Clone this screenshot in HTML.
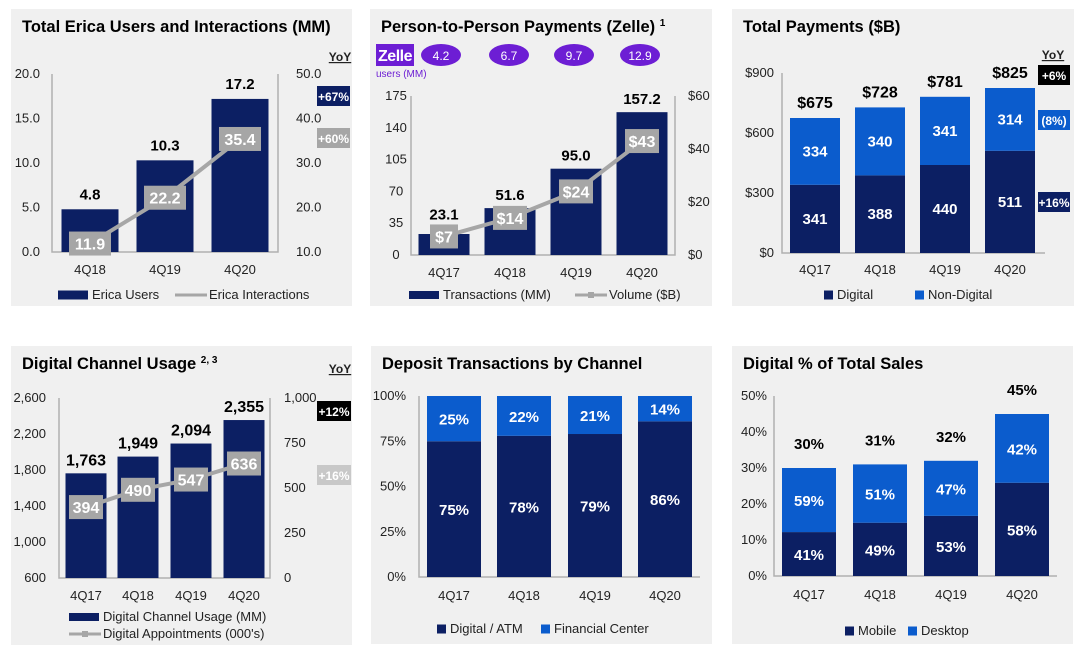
<!DOCTYPE html>
<html><head><meta charset="utf-8"><style>
body{margin:0;background:#fff;}
svg{display:block;font-family:"Liberation Sans",sans-serif;}
</style></head><body>
<svg id="s" width="1085" height="654" viewBox="0 0 1085 654"></svg>
<script>
const NAVY="#0c1f63", BLUE="#0b5ccd", GRAY="#a6a6a6", BG="#f0f0f0", PURPLE="#6d1ed4";
// Chart 1 data
const c1Cats=["4Q18","4Q19","4Q20"];
const c1Users=[4.8,10.3,17.2];
const c1Inter=[11.9,22.2,35.4];
const c1LeftTicks=[0,5,10,15,20];
const c1RightTicks=[10,20,30,40,50];
// Chart 2 data
const c2Cats=["4Q17","4Q18","4Q19","4Q20"];
const c2Trans=[23.1,51.6,95.0,157.2];
const c2Vol=[7,14,24,43];
const c2Users=["4.2","6.7","9.7","12.9"];
const c2LeftTicks=[0,35,70,105,140,175];
const c2RightTicks=[0,20,40,60];
// Chart 3 data
const c3Cats=["4Q17","4Q18","4Q19","4Q20"];
const c3Digital=[341,388,440,511];
const c3NonDigital=[334,340,341,314];
const c3Totals=["$675","$728","$781","$825"];
const c3Ticks=[0,300,600,900];
// Chart 4 data
const c4Cats=["4Q17","4Q18","4Q19","4Q20"];
const c4Usage=[1763,1949,2094,2355];
const c4Appts=[394,490,547,636];
const c4LeftTicks=[600,1000,1400,1800,2200,2600];
const c4RightTicks=[0,250,500,750,1000];
// Chart 5 data
const c5Cats=["4Q17","4Q18","4Q19","4Q20"];
const c5Digital=[75,78,79,86];
const c5Center=[25,22,21,14];
const c5Ticks=[0,25,50,75,100];
// Chart 6 data
const c6Cats=["4Q17","4Q18","4Q19","4Q20"];
const c6Total=[30,31,32,45];
const c6Mobile=[12.2,14.8,16.7,25.9];
const c6MobileLbl=[41,49,53,58];
const c6DesktopLbl=[59,51,47,42];
const c6Ticks=[0,10,20,30,40,50];

const S=document.getElementById('s');
function mk(tag,attrs,parent){const e=document.createElementNS("http://www.w3.org/2000/svg",tag);for(const k in attrs)e.setAttribute(k,attrs[k]);(parent||S).appendChild(e);return e;}
function txt(x,y,s,o){const e=mk('text',Object.assign({x:x,y:y,'font-size':13,fill:'#222','text-anchor':'middle'},o||{}));e.textContent=s;return e;}
function scale(d0,d1,p0,p1){return v=>p0+(v-d0)/(d1-d0)*(p1-p0);}
function fmt(n){return n.toLocaleString('en-US');}

function panel(x,y,w,h,title,name){
  const r=mk('rect',{x:x,y:y,width:w,height:h,fill:BG});
  
  
  const t=txt(x+11,y+23,title,{'font-size':16.5,'font-weight':'bold','text-anchor':'start',fill:'#000'});
  
  
  return t;
}
function axisFrame(xl,xr,yb,yt,right){
  const a=mk('path',{d:`M${xl},${yt}V${yb}H${xr}`+(right?`V${yt}`:''),stroke:'#b0b0b0','stroke-width':1.5,fill:'none'});
  
  
}
function tick(x,y,s,anchor){const t=txt(x,y+4,s,{'text-anchor':anchor});
  
  }
function catLabel(x,y,s){const t=txt(x,y,s);
  
  }
function bar(x,w,y0,y1,fill,name){const r=mk('rect',{x:x,y:Math.min(y0,y1),width:w,height:Math.abs(y1-y0),fill:fill});
  
  return r;}
function valLabel(x,y,s,color,size){const t=txt(x,y,s,{'font-weight':'bold','font-size':size||15,fill:color||'#000'});
  
  }
function boxLabel(cx,cy,s,w){const r=mk('rect',{x:cx-w/2,y:cy-12,width:w,height:24,fill:GRAY});
  
  
  const t=txt(cx,cy+6,s,{'font-weight':'bold','font-size':16,fill:'#fff'});
  
  }
function line(pts,name){const p=mk('polyline',{points:pts.map(q=>q.join(',')).join(' '),stroke:GRAY,'stroke-width':4,fill:'none'});
  
  }
function yoyHead(x,y){const t=txt(x,y,'YoY',{'font-weight':'bold','font-size':12,'text-decoration':'underline'});
  
  }
function yoyBox(x,y,w,s,fill){const r=mk('rect',{x:x,y:y,width:w,height:20,fill:fill});
  
  
  const t=txt(x+w/2,y+15,s,{'font-weight':'bold','font-size':12,fill:'#fff'});
  
  }
function legSq(x,y,w,h,fill,label){const r=mk('rect',{x:x,y:y-h/2-4,width:w,height:h,fill:fill});
  
  
  const t=txt(x+w+4,y,label,{'text-anchor':'start'});
  
  }
function legLine(x,y,w,label,marker){const l=mk('line',{x1:x,y1:y-4,x2:x+w,y2:y-4,stroke:GRAY,'stroke-width':3});
  
  
  if(marker){const m=mk('rect',{x:x+w/2-3,y:y-7,width:6,height:6,fill:GRAY});
  
  }
  const t=txt(x+w+2,y,label,{'text-anchor':'start'});
  
  }

// ---- Chart 1
panel(11,9,341,297,'Total Erica Users and Interactions (MM)','erica');
{const yL=scale(0,20,252,74), yR=scale(10,50,252,74), cx=[90,165,240], bw=57;
 c1LeftTicks.forEach(v=>tick(40,yL(v),v.toFixed(1),'end'));
 c1RightTicks.forEach(v=>tick(296,yR(v),v.toFixed(1),'start'));
 axisFrame(52,278,252,74,true);
 c1Users.forEach((v,i)=>{bar(cx[i]-bw/2,bw,yL(0),yL(v),NAVY,'erica-users-bar');valLabel(cx[i],yL(v)-10,v.toFixed(1));});
 line(c1Inter.map((v,i)=>[cx[i],yR(v)]),'erica-interactions-line');
 c1Inter.forEach((v,i)=>boxLabel(cx[i],yR(v),v.toFixed(1),42));
 c1Cats.forEach((c,i)=>catLabel(cx[i],274,c));
 legSq(58,299,30,9,NAVY,'Erica Users');legLine(175,299,32,'Erica Interactions',false);
 yoyHead(340,61);yoyBox(317,86,33,'+67%',NAVY);yoyBox(317,128,33,'+60%',GRAY);}

// ---- Chart 2
{const t=panel(370,9,342,297,'Person-to-Person Payments (Zelle) ','zelle');
 const sup=mk('tspan',{'font-size':10,dy:-6},t);sup.textContent='1';
 const z=mk('rect',{x:376,y:44,width:38,height:22,fill:PURPLE});
 
 
 const zt=txt(395,61,'Zelle',{'font-weight':'bold','font-size':16,fill:'#fff','letter-spacing':'-0.5'});
 
 
 const ut=txt(376,77,'users (MM)',{'font-size':10,fill:PURPLE,'text-anchor':'start'});
 
 
 const yL=scale(0,175,255,96), yR=scale(0,60,255,96), cx=[444,510,576,642], bw=51;
 [441,509,574,640].forEach((x,i)=>{const e=mk('ellipse',{cx:x,cy:55,rx:20,ry:11,fill:PURPLE});
  
  
  const tt=txt(x,60,c2Users[i],{fill:'#fff','font-size':12});
  
  });
 c2LeftTicks.forEach(v=>tick(396,yL(v),String(v),'middle'));
 c2RightTicks.forEach(v=>tick(688,yR(v),'$'+v,'start'));
 axisFrame(411,675,255,96,true);
 c2Trans.forEach((v,i)=>{bar(cx[i]-bw/2,bw,yL(0),yL(v),NAVY,'zelle-transactions-bar');valLabel(cx[i],Math.min(yL(v)-8,yR(c2Vol[i])-17),v.toFixed(1));});
 line(c2Vol.map((v,i)=>[cx[i],yR(v)]),'zelle-volume-line');
 c2Vol.forEach((v,i)=>boxLabel(cx[i],yR(v),'$'+v,v<10?28:34));
 c2Cats.forEach((c,i)=>catLabel(cx[i],277,c));
 legSq(409,299,30,8,NAVY,'Transactions (MM)');legLine(575,299,32,'Volume ($B)',true);}

// ---- Chart 3
panel(732,9,342,297,'Total Payments ($B)','payments');
{const y=scale(0,900,253,73), cx=[815,880,945,1010], bw=50;
 c3Ticks.forEach(v=>tick(774,y(v),'$'+v,'end'));
 axisFrame(782,1045,253,73,false);
 c3Cats.forEach((c,i)=>{const d=c3Digital[i],n=c3NonDigital[i];
  bar(cx[i]-bw/2,bw,y(0),y(d),NAVY,'digital-bar');
  bar(cx[i]-bw/2,bw,y(d),y(d+n),BLUE,'non-digital-bar');
  valLabel(cx[i],(y(0)+y(d))/2+5,String(d),'#fff');
  valLabel(cx[i],(y(d)+y(d+n))/2+5,String(n),'#fff');
  valLabel(cx[i],y(d+n)-10,c3Totals[i],'#000',16);
  catLabel(cx[i],274,c);});
 legSq(824,299,9,9,NAVY,'Digital');legSq(915,299,9,9,BLUE,'Non-Digital');
 yoyHead(1053,59);yoyBox(1038,65,32,'+6%','#000');yoyBox(1038,110,32,'(8%)',BLUE);yoyBox(1038,192,32,'+16%',NAVY);}

// ---- Chart 4
{const t=panel(11,346,341,299,'Digital Channel Usage ','usage');
 const sup=mk('tspan',{'font-size':10,dy:-6},t);sup.textContent='2, 3';
 const yL=scale(600,2600,578,398), yR=scale(0,1000,578,398), cx=[86,138,191,244], bw=41;
 c4LeftTicks.forEach(v=>tick(46,yL(v),fmt(v),'end'));
 c4RightTicks.forEach(v=>tick(284,yR(v),fmt(v),'start'));
 axisFrame(59,270,578,398,true);
 c4Usage.forEach((v,i)=>{bar(cx[i]-bw/2,bw,yL(600),yL(v),NAVY,'digital-usage-bar');valLabel(cx[i],yL(v)-8,fmt(v),'#000',16);});
 line(c4Appts.map((v,i)=>[cx[i],yR(v)]),'digital-appointments-line');
 c4Appts.forEach((v,i)=>boxLabel(cx[i],yR(v),String(v),34));
 c4Cats.forEach((c,i)=>catLabel(cx[i],600,c));
 legSq(69,621,30,8,NAVY,'Digital Channel Usage (MM)');legLine(69,638,32,'Digital Appointments (000\'s)',true);
 yoyHead(340,373);yoyBox(317,401,34,'+12%','#000');yoyBox(317,465,34,'+16%','#c8c8c8');}

// ---- Chart 5
panel(371,346,341,298,'Deposit Transactions by Channel','deposit');
{const y=scale(0,100,577,396), cx=[454,524,595,665], bw=54;
 c5Ticks.forEach(v=>tick(406,y(v),v+'%','end'));
 axisFrame(419,700,577,396,false);
 c5Cats.forEach((c,i)=>{const d=c5Digital[i],f=c5Center[i];
  bar(cx[i]-bw/2,bw,y(0),y(d),NAVY,'digital-atm-bar');
  bar(cx[i]-bw/2,bw,y(d),y(d+f),BLUE,'financial-center-bar');
  valLabel(cx[i],(y(0)+y(d))/2+6,d+'%','#fff');
  valLabel(cx[i],(y(d)+y(d+f))/2+6,f+'%','#fff');
  catLabel(cx[i],600,c);});
 legSq(437,633,9,9,NAVY,'Digital / ATM');legSq(541,633,9,9,BLUE,'Financial Center');}

// ---- Chart 6
panel(732,346,341,298,'Digital % of Total Sales','sales');
{const y=scale(0,50,576,396), cx=[809,880,951,1022], bw=54;
 c6Ticks.forEach(v=>tick(767,y(v),v+'%','end'));
 axisFrame(774,1057,576,396,false);
 c6Cats.forEach((c,i)=>{const m=c6Mobile[i],t=c6Total[i];
  bar(cx[i]-bw/2,bw,y(0),y(m),NAVY,'mobile-bar');
  bar(cx[i]-bw/2,bw,y(m),y(t),BLUE,'desktop-bar');
  valLabel(cx[i],(y(0)+y(m))/2+6,c6MobileLbl[i]+'%','#fff');
  valLabel(cx[i],(y(m)+y(t))/2+6,c6DesktopLbl[i]+'%','#fff');
  valLabel(cx[i],y(t)-19,t+'%','#000');
  catLabel(cx[i],599,c);});
 legSq(845,635,9,9,NAVY,'Mobile');legSq(908,635,9,9,BLUE,'Desktop');}
</script>
</body></html>
